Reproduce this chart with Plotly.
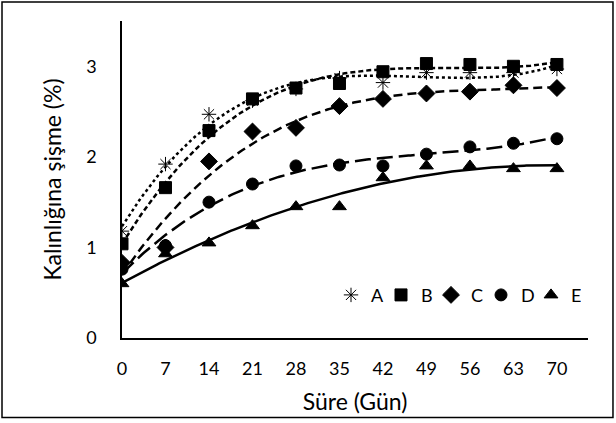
import numpy as np
import plotly.graph_objects as go

days = [0, 7, 14, 21, 28, 35, 42, 49, 56, 63, 70]
x_ticks = [0, 7, 14, 21, 28, 35, 42, 49, 56, 63, 70]
y_ticks = [0, 1, 2, 3]

A = [1.18, 1.92, 2.47, 2.62, 2.75, 2.87, 2.82, 2.93, 2.93, 2.93, 2.97]
B = [1.04, 1.66, 2.29, 2.64, 2.76, 2.81, 2.94, 3.03, 3.02, 3.00, 3.02]
C = [0.83, 1.00, 1.95, 2.28, 2.32, 2.56, 2.64, 2.70, 2.72, 2.79, 2.76]
D = [0.76, 1.02, 1.50, 1.70, 1.90, 1.91, 1.90, 2.03, 2.11, 2.15, 2.20]
E = [0.60, 0.93, 1.05, 1.24, 1.45, 1.45, 1.77, 1.90, 1.90, 1.87, 1.87]

names = ["A", "B", "C", "D", "E"]
series = [A, B, C, D, E]
fit_orders = [3, 3, 3, 3, 2]
symbols = ["asterisk-open", "square", "diamond", "circle", "triangle-up"]
sizes = [12, 12, 13, 12, 12]
dashes = ["dot", "5px,3px", "9px,5px", "16px,6px", "solid"]

fig = go.Figure()
xs = np.linspace(0, 70, 200)
for name, ys, dash, order in zip(names, series, dashes, fit_orders):
    coef = np.polyfit(days, ys, order)
    fig.add_trace(go.Scatter(x=xs, y=np.polyval(coef, xs), mode="lines",
                             line=dict(color="black", width=2.5, dash=dash),
                             showlegend=False, hoverinfo="skip"))
for name, ys, sym, sz in zip(names, series, symbols, sizes):
    fig.add_trace(go.Scatter(x=days, y=ys, mode="markers", name=name,
                             marker=dict(symbol=sym, size=sz, color="black",
                                         line=dict(color="black", width=1))))

font = "Lato, Open Sans, sans-serif"
fig.update_layout(
    width=616, height=423,
    margin=dict(l=122, r=28, t=21, b=83),
    paper_bgcolor="white", plot_bgcolor="white",
    font=dict(family=font, size=19, color="black"),
    showlegend=True,
    legend=dict(orientation="h", x=0.985, xanchor="right", y=0.135, yanchor="middle",
                bgcolor="rgba(0,0,0,0)", font=dict(size=18),
                itemwidth=30, tracegroupgap=0, entrywidth=5, entrywidthmode="pixels"),
    xaxis=dict(range=[0, 75], tickvals=x_ticks, ticktext=[str(t) for t in x_ticks],
               showgrid=False, zeroline=False, showline=True, linecolor="black",
               linewidth=1.5, ticks="", ticklabelstandoff=14,
               tickfont=dict(size=18),
               title=dict(text="Süre (Gün)", standoff=16)),
    yaxis=dict(range=[0, 3.5], tickvals=y_ticks, showgrid=False, zeroline=False,
               showline=True, linecolor="black", linewidth=1.5, ticks="",
               ticklabelstandoff=20,
               tickfont=dict(size=18),
               title=dict(text="Kalınlığına şişme (%)", standoff=18)),
    shapes=[dict(type="rect", xref="paper", yref="paper",
                 x0=-0.2575, x1=1.0536, y0=-0.2508, y1=1.0596,
                 line=dict(color="black", width=1.5))],
)
fig.write_html("out.html")
